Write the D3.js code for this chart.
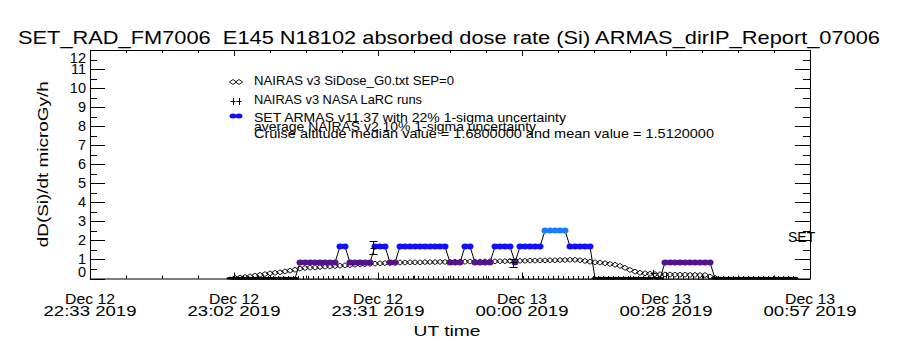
<!DOCTYPE html>
<html>
<head>
<meta charset="utf-8">
<script src="https://cdn.jsdelivr.net/npm/d3@7"></script>
<style>
  body { margin: 0; background: #fff; }
  text { font-family: "Liberation Sans", "DejaVu Sans", sans-serif; fill: #000; }
</style>
</head>
<body>
<div id="chart"></div>
<script>
// ---- data ----
var titleText = "SET_RAD_FM7006  E145 N18102 absorbed dose rate (Si) ARMAS_dirIP_Report_07006";
var yLabel = "dD(Si)/dt microGy/h";
var xLabel = "UT time";

var xTickTimes = ["2019-12-12T22:33:00Z", "2019-12-12T23:01:48Z", "2019-12-12T23:30:36Z",
                  "2019-12-12T23:59:24Z", "2019-12-13T00:28:12Z", "2019-12-13T00:57:00Z"];
var xTickDay = ["Dec 12", "Dec 12", "Dec 12", "Dec 13", "Dec 13", "Dec 13"];
var xTickHour = ["22:33 2019", "23:02 2019", "23:31 2019", "00:00 2019", "00:28 2019", "00:57 2019"];
var yTicks = [0, 1, 2, 3, 4, 5, 6, 7, 8, 9, 10, 11, 12];

// ARMAS dose rate, one value per minute starting 23:01 UT
var armasStart = "2019-12-12T23:01:00Z";
var armasDose = [
  0, 0, 0, 0, 0, 0, 0, 0, 0, 0, 0, 0, 0, 0,                 // 23:01 - 23:14
  0.84, 0.84, 0.84, 0.84, 0.84, 0.84, 0.84, 0.84,           // 23:15 - 23:22
  1.68, 1.68,                                               // 23:23 - 23:24
  0.84, 0.84, 0.84, 0.84, 0.84,                             // 23:25 - 23:29
  1.68, 1.68, 1.68,                                         // 23:30 - 23:32
  0.84, 0.84,                                               // 23:33 - 23:34
  1.68, 1.68, 1.68, 1.68, 1.68, 1.68, 1.68, 1.68, 1.68, 1.68, // 23:35 - 23:44
  0.84, 0.84, 0.84,                                         // 23:45 - 23:47
  1.68, 1.68,                                               // 23:48 - 23:49
  0.84, 0.84, 0.84, 0.84,                                   // 23:50 - 23:53
  1.68, 1.68, 1.68, 1.68,                                   // 23:54 - 23:57
  0.84,                                                     // 23:58
  1.68, 1.68, 1.68, 1.68, 1.68,                             // 23:59 - 00:03
  2.52, 2.52, 2.52, 2.52, 2.52,                             // 00:04 - 00:08
  1.68, 1.68, 1.68, 1.68, 1.68,                             // 00:09 - 00:13
  0, 0, 0, 0, 0, 0, 0, 0, 0, 0, 0, 0, 0, 0,                 // 00:14 - 00:27
  0.84, 0.84, 0.84, 0.84, 0.84, 0.84, 0.84, 0.84, 0.84, 0.84, // 00:28 - 00:37
  0, 0, 0, 0, 0, 0, 0, 0, 0, 0, 0, 0, 0, 0, 0, 0, 0         // 00:38 - 00:54
];

// NAIRAS v3 SiDose_G0, one value per minute starting 23:02 UT
var nairasStart = "2019-12-12T23:02:00Z";
var nairasDose = [
  0.03, 0.05, 0.08, 0.11, 0.15, 0.19, 0.23, 0.27, 0.30, 0.33,
  0.37, 0.41, 0.46, 0.52, 0.55, 0.57, 0.58, 0.60, 0.62, 0.63,
  0.65, 0.67, 0.69, 0.70, 0.72, 0.74, 0.75, 0.77, 0.78, 0.80,
  0.81, 0.82, 0.83, 0.84, 0.84, 0.85, 0.85, 0.85, 0.86, 0.86,
  0.86, 0.87, 0.87, 0.87, 0.88, 0.88, 0.88, 0.89, 0.89, 0.89,
  0.90, 0.90, 0.90, 0.91, 0.91, 0.92, 0.92, 0.93, 0.93, 0.94,
  0.94, 0.95, 0.95, 0.96, 0.96, 0.97, 0.97, 0.98, 0.98, 0.96,
  0.92, 0.88, 0.85, 0.83, 0.80, 0.76, 0.72, 0.66, 0.56, 0.45,
  0.36, 0.30, 0.27, 0.25, 0.23, 0.22, 0.21, 0.21, 0.20, 0.20,
  0.20, 0.19, 0.19, 0.18, 0.18, 0.10, 0.03
];

// NAIRAS v3 NASA LaRC runs, one value per minute starting 23:01:36 UT
var larcStart = "2019-12-12T23:01:36Z";
var larcDose = [
  0, 0, 0, 0, 0, 0, 0, 0, 0, 0, 0, 0, 0, 0, 0, 0, 0, 0, 0, 0,
  0, 0, 0, 0, 0, 0, 0, 0, 1.62, 0, 0, 0, 0, 0, 0, 0, 0, 0, 0, 0,
  0, 0, 0, 0, 0, 0, 0, 0, 0, 0, 0, 0, 0, 0, 0, 0, 0.85, 0, 0, 0,
  0, 0, 0, 0, 0, 0, 0, 0, 0, 0, 0, 0, 0, 0, 0, 0, 0, 0, 0, 0,
  0, 0, 0, 0, 0.27, 0, 0, 0, 0, 0, 0, 0, 0, 0, 0, 0, 0, 0, 0, 0,
  0, 0, 0, 0, 0, 0, 0, 0, 0, 0, 0, 0, 0
];
// error bars of the non-zero LaRC runs
var larcBarTime = ["2019-12-12T23:29:36Z", "2019-12-12T23:57:36Z"];
var larcBarLow = [1.28, 0.62];
var larcBarHigh = [1.96, 1.05];

var legendLabels = ["NAIRAS v3 SiDose_G0.txt SEP=0", "NAIRAS v3 NASA LaRC runs",
                    "SET ARMAS v11.37 with 22% 1-sigma uncertainty"];
var noteLines = ["average NAIRAS v2 10% 1-sigma uncertainty",
                 "Cruise altitude median value = 1.6800000 and mean value = 1.5120000"];

// ---- drawing ----
var W = 900, H = 350;
var pLeft = 90, pRight = 810, pTop = 50, pBottom = 278.5;

var svg = d3.select("#chart").append("svg")
  .attr("width", W).attr("height", H);

var parse = d3.utcParse("%Y-%m-%dT%H:%M:%SZ");
var xScale = d3.scaleUtc()
  .domain([parse("2019-12-12T22:33:00Z"), parse("2019-12-13T00:57:00Z")])
  .range([pLeft, pRight]);
var yScale = d3.scaleLinear().domain([0, 12]).range([pBottom, pTop]);

function colorFor(v){
  if (v <= 0) return "#000000";
  if (v < 1.2) return "#53138a";
  if (v < 2.1) return "#1010ff";
  return "#1c7cff";
}

function diamond(cx, cy){
  return "M" + (cx - 3.5) + "," + cy + "L" + cx + "," + (cy - 2.5) + "L" + (cx + 3.5) + "," + cy + "L" + cx + "," + (cy + 2.5) + "Z";
}

svg.append("clipPath").attr("id", "clip")
  .append("rect").attr("x", pLeft).attr("y", pTop).attr("width", pRight - pLeft).attr("height", pBottom - pTop + 1);

var plot = svg.append("g").attr("clip-path", "url(#clip)");

function perMinute(start, values){
  var s = parse(start);
  return values.map(function(v, i){ return {t: d3.utcMinute.offset(s, i), v: v}; });
}
var armas = perMinute(armasStart, armasDose);
var nairas = perMinute(nairasStart, nairasDose);
var larc = perMinute(larcStart, larcDose);

// NAIRAS diamonds
plot.append("g").selectAll("path").data(nairas).enter().append("path")
  .attr("d", function(d){ return diamond(xScale(d.t), yScale(d.v)); })
  .attr("fill", "none").attr("stroke", "#000").attr("stroke-width", 0.9);

// ARMAS line + dots
plot.append("path").datum(armas)
  .attr("d", d3.line().x(function(d){ return xScale(d.t); }).y(function(d){ return yScale(d.v); }))
  .attr("fill", "none").attr("stroke", "#000").attr("stroke-width", 1);

plot.append("g").selectAll("ellipse").data(armas).enter().append("ellipse")
  .attr("cx", function(d){ return xScale(d.t); })
  .attr("cy", function(d){ return yScale(d.v); })
  .attr("rx", 3.5)
  .attr("ry", function(d){ return d.v > 0 ? 3 : 1.8; })
  .attr("fill", function(d){ return colorFor(d.v); });

// LaRC runs: plus signs + error bars
var lg = plot.append("g").attr("stroke", "#000").attr("stroke-width", 1);
larc.forEach(function(d){
  var cx = Math.round(xScale(d.t)) + 0.5, cy = Math.round(yScale(d.v)) + 0.5;
  lg.append("line").attr("x1", cx - 3).attr("x2", cx + 3).attr("y1", cy).attr("y2", cy);
  lg.append("line").attr("x1", cx).attr("x2", cx).attr("y1", cy - 3.5).attr("y2", cy + 3.5);
});
larcBarTime.forEach(function(t, i){
  var cx = Math.round(xScale(parse(t))) + 0.5;
  var y1 = Math.round(yScale(larcBarLow[i])) + 0.5, y2 = Math.round(yScale(larcBarHigh[i])) + 0.5;
  lg.append("line").attr("x1", cx).attr("x2", cx).attr("y1", y1).attr("y2", y2);
  lg.append("line").attr("x1", cx - 4).attr("x2", cx + 4).attr("y1", y1).attr("y2", y1);
  lg.append("line").attr("x1", cx - 4).attr("x2", cx + 4).attr("y1", y2).attr("y2", y2);
});

// frame
svg.append("rect").attr("x", pLeft + 0.5).attr("y", pTop + 0.5).attr("width", pRight - pLeft).attr("height", pBottom - pTop)
  .attr("fill", "none").attr("stroke", "#000").attr("stroke-width", 1);

// y ticks inside on both sides
var yMinor = yTicks.slice(0, -1).map(function(v){ return v + 0.5; });
[[pLeft, 1], [pRight, -1]].forEach(function(s){
  var g = svg.append("g").attr("stroke", "#000");
  yTicks.forEach(function(v){
    var y = Math.round(yScale(v)) + 0.5;
    g.append("line").attr("x1", s[0]).attr("x2", s[0] + s[1] * 15).attr("y1", y).attr("y2", y);
  });
  yMinor.forEach(function(v){
    var y = Math.round(yScale(v)) + 0.5;
    g.append("line").attr("x1", s[0]).attr("x2", s[0] + s[1] * 7).attr("y1", y).attr("y2", y);
  });
});
// end labels are kept inside the frame
svg.append("g").selectAll("text").data(yTicks).enter().append("text")
  .attr("x", 86)
  .attr("y", function(d){
    var y = yScale(d) + 5;
    return Math.min(Math.max(y, pTop + 13), pBottom - 1.5);
  })
  .attr("text-anchor", "end").style("font-size", "14.5px")
  .text(function(d){ return d; });

// x ticks inside bottom and top
var xt = xTickTimes.map(parse);
var xMinor = [];
for (var i = 0; i < xt.length - 1; i++) {
  for (var k = 1; k < 4; k++) xMinor.push(new Date(+xt[i] + (xt[i + 1] - xt[i]) * k / 4));
}
var xg = svg.append("g").attr("stroke", "#000");
xt.forEach(function(t){
  var x = Math.round(xScale(t)) + 0.5;
  xg.append("line").attr("x1", x).attr("x2", x).attr("y1", pBottom).attr("y2", pBottom - 6);
  xg.append("line").attr("x1", x).attr("x2", x).attr("y1", pTop).attr("y2", pTop + 6);
});
xMinor.forEach(function(t){
  var x = Math.round(xScale(t)) + 0.5;
  xg.append("line").attr("x1", x).attr("x2", x).attr("y1", pBottom).attr("y2", pBottom - 3);
  xg.append("line").attr("x1", x).attr("x2", x).attr("y1", pTop).attr("y2", pTop + 3);
});
var xl = svg.append("g").selectAll("g").data(xt).enter().append("g");
xl.append("text").attr("x", function(d){ return xScale(d); }).attr("y", 304)
  .attr("text-anchor", "middle").style("font-size", "15px")
  .attr("textLength", 50).attr("lengthAdjust", "spacingAndGlyphs")
  .text(function(d, i){ return xTickDay[i]; });
xl.append("text").attr("x", function(d){ return xScale(d); }).attr("y", 316)
  .attr("text-anchor", "middle").style("font-size", "15px")
  .attr("textLength", 93).attr("lengthAdjust", "spacingAndGlyphs")
  .text(function(d, i){ return xTickHour[i]; });

svg.append("text").attr("x", 447).attr("y", 336).attr("text-anchor", "middle")
  .style("font-size", "15px").attr("textLength", 67).attr("lengthAdjust", "spacingAndGlyphs")
  .text(xLabel);

svg.append("text").attr("transform", "translate(48," + ((pTop + pBottom) / 2) + ") rotate(-90)")
  .attr("text-anchor", "middle").style("font-size", "15px")
  .attr("textLength", 166).attr("lengthAdjust", "spacingAndGlyphs").text(yLabel);

svg.append("text").attr("x", 449).attr("y", 44).attr("text-anchor", "middle")
  .attr("textLength", 862).attr("lengthAdjust", "spacingAndGlyphs")
  .style("font-size", "19px").style("white-space", "pre").text(titleText);

// legend
var legY = [85, 104, 122];
var legW = [200, 168, 312];
svg.append("g").selectAll("text").data(legendLabels).enter().append("text")
  .attr("x", 254).attr("y", function(d, i){ return legY[i]; })
  .attr("textLength", function(d, i){ return legW[i]; }).attr("lengthAdjust", "spacingAndGlyphs")
  .style("font-size", "13px").text(function(d){ return d; });
[-3, 3].forEach(function(dx){
  var cx = 236 + dx;
  svg.append("path").attr("d", diamond(cx, 82))
    .attr("fill", "none").attr("stroke", "#000").attr("stroke-width", 0.9);
  svg.append("line").attr("x1", cx - 2.5).attr("x2", cx + 2.5).attr("y1", 101.5).attr("y2", 101.5).attr("stroke", "#000");
  svg.append("line").attr("x1", cx + 0.5).attr("x2", cx + 0.5).attr("y1", 98).attr("y2", 105).attr("stroke", "#000");
  svg.append("ellipse").attr("cx", cx).attr("cy", 116).attr("rx", 3.5).attr("ry", 2.5).attr("fill", "#1010ff");
});
svg.append("text").attr("x", 254).attr("y", 131).style("font-size", "13px")
  .attr("textLength", 282).attr("lengthAdjust", "spacingAndGlyphs").text(noteLines[0]);
svg.append("text").attr("x", 254).attr("y", 138).style("font-size", "13px")
  .attr("textLength", 460).attr("lengthAdjust", "spacingAndGlyphs").text(noteLines[1]);

// SET marker text
svg.append("text").attr("x", 788).attr("y", 242).style("font-size", "14px").text("SET");
</script>
</body>
</html>
